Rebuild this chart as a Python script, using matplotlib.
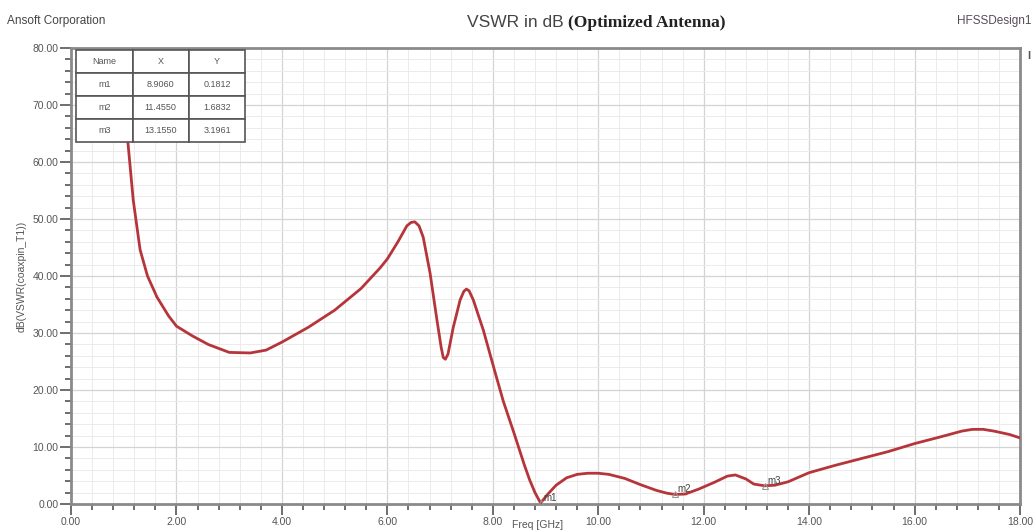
import matplotlib.pyplot as plt
import numpy as np

# VSWR in dB vs frequency
freq = [1.08, 1.18, 1.31, 1.45, 1.63, 1.85, 2.0, 2.3, 2.6, 3.0, 3.4, 3.7, 4.0,
        4.5, 5.0, 5.5, 5.86, 6.0, 6.2, 6.37, 6.45, 6.52, 6.6, 6.68, 6.81, 6.94,
        7.02, 7.06, 7.1, 7.15, 7.25, 7.38, 7.45, 7.5, 7.55, 7.63, 7.82, 8.04,
        8.2, 8.4, 8.6, 8.7, 8.8, 8.906, 9.05, 9.2, 9.4, 9.6, 9.8, 10.0, 10.2,
        10.5, 10.8, 11.1, 11.3, 11.455, 11.65, 11.9, 12.2, 12.45, 12.6, 12.8,
        12.95, 13.155, 13.35, 13.6, 14.0, 14.5, 15.0, 15.5, 16.0, 16.5, 16.9,
        17.1, 17.3, 17.5, 17.8, 18.0]
vswr_db = [63.3, 53.3, 44.6, 40.0, 36.3, 33.0, 31.2, 29.5, 28.0, 26.6, 26.5,
           27.0, 28.4, 31.0, 34.0, 37.8, 41.4, 43.0, 46.0, 48.8, 49.4, 49.5,
           48.8, 46.8, 40.5, 32.3, 27.5, 25.7, 25.4, 26.3, 31.0, 35.8, 37.3,
           37.7, 37.4, 35.8, 30.5, 23.2, 18.0, 12.5, 6.8, 4.2, 2.0, 0.18, 1.8,
           3.3, 4.6, 5.2, 5.4, 5.4, 5.2, 4.5, 3.4, 2.4, 1.9, 1.68, 1.75, 2.6,
           3.8, 4.9, 5.1, 4.4, 3.5, 3.2, 3.3, 3.9, 5.5, 6.8, 8.0, 9.2, 10.6, 11.8,
           12.8, 13.1, 13.1, 12.8, 12.2, 11.6]

marker_names = ["m1", "m2", "m3"]
marker_x = [8.9060, 11.4550, 13.1550]
marker_y = [0.1812, 1.6832, 3.1961]

line_col = "#b5353a"
axis_col = "#8a8a8a"

fig = plt.figure(figsize=(10.34, 5.32), dpi=100)
ax = fig.add_axes([0.0687, 0.0526, 0.9178, 0.8572])

ax.plot(freq, vswr_db, color=line_col, lw=2.0, zorder=3,
        solid_joinstyle="round")
ax.plot(marker_x, marker_y, linestyle="none", marker="^", ms=4,
        mfc="none", mec="#999999", mew=0.8, zorder=4)
for name, mx, my in zip(marker_names, marker_x, marker_y):
    ax.text(mx + 0.05, my + 0.4, name, fontsize=7, color="#444444",
            family="Liberation Sans", zorder=5)

ax.set_xlim(0, 18)
ax.set_ylim(0, 80)
ax.set_xticks(np.arange(0, 18.01, 2))
ax.set_xticks(np.arange(0, 18.01, 0.4), minor=True)
ax.set_yticks(np.arange(0, 80.01, 10))
ax.set_yticks(np.arange(0, 80.01, 2), minor=True)
ax.set_xticklabels([f"{v:.2f}" for v in np.arange(0, 18.01, 2)])
ax.set_yticklabels([f"{v:.2f}" for v in np.arange(0, 80.01, 10)])

ax.grid(which="major", color="#d4d4d4", lw=0.9)
ax.grid(which="minor", color="#ebebeb", lw=0.7)
ax.set_axisbelow(True)

for s in ax.spines.values():
    s.set_color(axis_col)
    s.set_linewidth(2)
ax.tick_params(which="major", direction="out", length=8, width=1.2,
               color="#555555", labelsize=7.5, labelcolor="#555555", pad=1)
ax.tick_params(which="minor", direction="out", length=4, width=1.2,
               color="#555555")
for lab in ax.get_xticklabels() + ax.get_yticklabels():
    lab.set_family("Liberation Sans")

ax.set_ylabel("dB(VSWR(coaxpin_T1))", fontsize=7.5, color="#555555",
              family="Liberation Sans", labelpad=4)
ax.set_xlabel("Freq [GHz]", fontsize=7.5, color="#555555",
              family="Liberation Sans", va="bottom")
ax.xaxis.set_label_coords(0.492, -0.0575)

# marker table in the upper left corner
table = ax.table(cellText=[[n, f"{x:.4f}", f"{y:.4f}"]
                           for n, x, y in zip(marker_names, marker_x, marker_y)],
                 colLabels=["Name", "X", "Y"],
                 cellLoc="center",
                 bbox=[0.0055, 0.793, 0.178, 0.202])
table.auto_set_font_size(False)
table.set_fontsize(6.5)
for (r, c), cell in table.get_celld().items():
    cell.set_edgecolor("#555555")
    cell.set_linewidth(1.2)
    cell.set_facecolor("white")
    cell.get_text().set_color("#555555")
    cell.get_text().set_family("Liberation Sans")
table.set_zorder(6)

# header texts
fig.text(0.007, 0.955, "Ansoft Corporation", fontsize=8.5, color="#444444",
         family="Liberation Sans")
fig.text(0.998, 0.955, "HFSSDesign1", fontsize=8.5, color="#5a4a5a",
         family="Liberation Sans", ha="right")
fig.text(0.545, 0.950, "VSWR in dB", fontsize=12.5, color="#444444",
         family="Liberation Sans", ha="right")
fig.text(0.549, 0.950, "(Optimized Antenna)", fontsize=12.5, color="#222222",
         family="Liberation Serif", weight="bold", ha="left")
fig.text(0.993, 0.89, "I", fontsize=8, color="#555555", weight="bold",
         family="Liberation Sans")

fig.savefig("out.png", dpi=100)
